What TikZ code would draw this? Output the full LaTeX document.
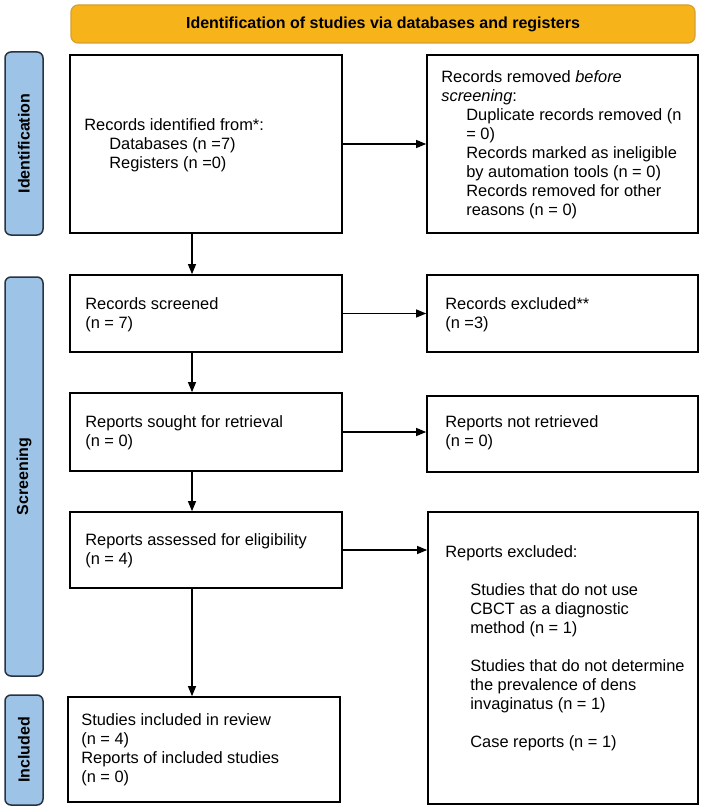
\documentclass[tikz,border=0pt]{standalone}
\usepackage{fontspec}
\setmainfont{Liberation Sans}
\usetikzlibrary{arrows.meta,calc}
\definecolor{bannerfill}{RGB}{247,180,26}
\definecolor{bannerdraw}{RGB}{214,160,50}
\definecolor{barfill}{RGB}{157,195,230}
\definecolor{bardraw}{RGB}{40,50,65}
\begin{document}
\begin{tikzpicture}[x=1pt,y=-1pt,
  banner/.style={draw=bannerdraw, fill=bannerfill, line width=1.2pt, rounded corners=7pt,
    minimum width=624pt, minimum height=38pt, inner sep=0pt, font=\bfseries\fontsize{16}{19}\selectfont},
  sidebar/.style={draw=bardraw, fill=barfill, line width=1.5pt, rounded corners=6pt, rotate=90,
    minimum height=38pt, inner sep=0pt, font=\bfseries\fontsize{16}{19}\selectfont},
  flowbox/.style={draw=black, line width=1.7pt, inner sep=0pt, fill=white},
  bodytext/.style={inner sep=0pt, anchor=west, align=left, font=\fontsize{16.4}{19}\selectfont},
  arr/.style={line width=1.1pt, -{Triangle[length=10pt,width=8pt]}}]
\fill[white] (0,0) rectangle (707,810);
\useasboundingbox (0,0) rectangle (707,810);

\node[banner] (banner) at (383,24) {Identification of studies via databases and registers};

\node[sidebar, minimum width=183pt] (idbar) at (24,143.5) {Identification};
\node[sidebar, minimum width=399pt] (scrbar) at (24,476.5) {Screening};
\node[sidebar, minimum width=110pt] (incbar) at (24,750) {Included};

\node[flowbox, minimum width=272pt, minimum height=178pt] (ident) at (206,144) {};
\node[flowbox, minimum width=271pt, minimum height=178pt] (removed) at (562.5,144) {};
\node[flowbox, minimum width=272pt, minimum height=77pt] (screened) at (206,313.5) {};
\node[flowbox, minimum width=271pt, minimum height=77pt] (excluded) at (562.5,313.5) {};
\node[flowbox, minimum width=272pt, minimum height=78pt] (sought) at (206,432) {};
\node[flowbox, minimum width=271pt, minimum height=76pt] (notret) at (562.5,434) {};
\node[flowbox, minimum width=272pt, minimum height=76pt] (assessed) at (206,550) {};
\node[flowbox, minimum width=270pt, minimum height=292pt] (repexcl) at (563,658) {};
\node[flowbox, minimum width=272pt, minimum height=105pt] (included) at (204,749.5) {};

\node[bodytext] (identtxt) at ($(ident.west)+(15,1)$)
  {Records identified from*:\\\hspace*{25pt}Databases (n =7)\\\hspace*{25pt}Registers (n =0)};
\node[bodytext] (removedtxt) at ($(removed.west)+(15,1)$)
  {Records removed \textit{before}\\\textit{screening}:\\
   \hspace*{25pt}Duplicate records removed (n\\\hspace*{25pt}= 0)\\
   \hspace*{25pt}Records marked as ineligible\\\hspace*{25pt}by automation tools (n = 0)\\
   \hspace*{25pt}Records removed for other\\\hspace*{25pt}reasons (n = 0)};
\node[bodytext] (screenedtxt) at ($(screened.west)+(16,1)$) {Records screened\\(n = 7)};
\node[bodytext] (excludedtxt) at ($(excluded.west)+(19,1)$) {Records excluded**\\(n =3)};
\node[bodytext] (soughttxt) at ($(sought.west)+(16,1)$) {Reports sought for retrieval\\(n = 0)};
\node[bodytext] (notrettxt) at ($(notret.west)+(19,-1)$) {Reports not retrieved\\(n = 0)};
\node[bodytext] (assessedtxt) at ($(assessed.west)+(16,1)$) {Reports assessed for eligibility\\(n = 4)};
\node[bodytext] (repexcltxt) at ($(repexcl.west)+(18,-10)$)
  {Reports excluded:\\[19pt]
   \hspace*{25pt}Studies that do not use\\\hspace*{25pt}CBCT as a diagnostic\\\hspace*{25pt}method (n = 1)\\[19pt]
   \hspace*{25pt}Studies that do not determine\\\hspace*{25pt}the prevalence of dens\\\hspace*{25pt}invaginatus (n = 1)\\[19pt]
   \hspace*{25pt}Case reports (n = 1)};
\node[bodytext] (includedtxt) at ($(included.west)+(14,0)$)
  {Studies included in review\\(n = 4)\\Reports of included studies\\(n = 0)};

\coordinate (vx) at (192,0);
\draw[arr] (ident.south -| vx) -- (screened.north -| vx);
\draw[arr] (screened.south -| vx) -- (sought.north -| vx);
\draw[arr] (sought.south -| vx) -- (assessed.north -| vx);
\draw[arr] (assessed.south -| vx) -- (included.north -| vx);
\draw[arr] (ident.east) -- (removed.west);
\draw[arr] (screened.east) -- (excluded.west);
\draw[arr] (sought.east) -- (sought.east -| notret.west);
\draw[arr] (assessed.east) -- (assessed.east -| repexcl.west);
\end{tikzpicture}
\end{document}
